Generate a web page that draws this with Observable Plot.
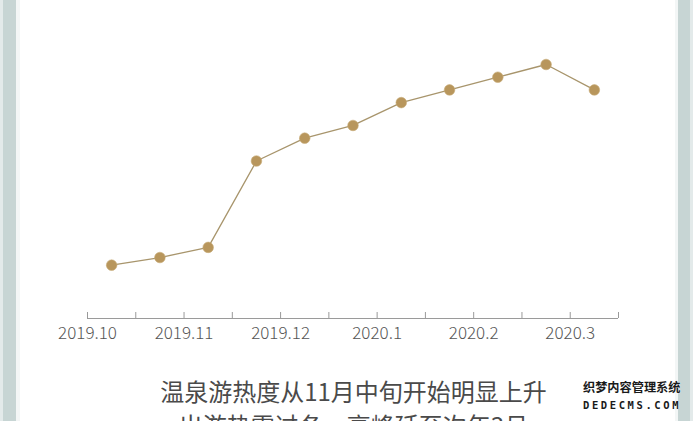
<!DOCTYPE html>
<html>
<head>
<meta charset="utf-8">
<script src="https://cdn.jsdelivr.net/npm/d3@7"></script>
<script src="https://cdn.jsdelivr.net/npm/@observablehq/plot@0.6"></script>
<style>
  html, body { margin: 0; padding: 0; background: #fff; overflow: hidden; }
  #frame { position: relative; width: 693px; height: 421px; background: #fff; overflow: hidden; }
  .edge { position: absolute; top: 0; height: 421px; }
  #chart { position: absolute; left: 0; top: 0; }
  #caption {
    position: absolute; left: 14px; top: 374px; width: 679px; text-align: center;
    font-family: "Noto Sans CJK SC", "Noto Sans", sans-serif; font-weight: 400;
    font-size: 24px; line-height: 34px; color: #4a4a4a; white-space: nowrap;
  }
  #wm1 {
    position: absolute; left: 583px; top: 380px; font-family: "Noto Sans CJK SC", sans-serif;
    font-weight: 700; font-size: 12.2px; line-height: 15px; color: #1a1a1a; white-space: nowrap;
    text-shadow: 0 0 1px #fff, 0 0 1px #fff;
  }
  #wm2 {
    position: absolute; left: 583px; top: 400px; font-family: "DejaVu Sans Mono", monospace;
    font-weight: 700; font-size: 10.5px; line-height: 11px; letter-spacing: 2.6px; color: #1a1a1a; white-space: nowrap;
    text-shadow: 0 0 1px #fff, 0 0 1px #fff;
  }
</style>
</head>
<body>
<div id="frame">
  <div class="edge" style="left:0;width:3px;background:#e3eaea"></div>
  <div class="edge" style="left:3px;width:13px;background:#c7d5d4"></div>
  <div class="edge" style="left:16px;width:4px;background:#f3f6f6"></div>
  <div class="edge" style="left:675px;width:3px;background:#f3f6f6"></div>
  <div class="edge" style="left:678px;width:12px;background:#c7d5d4"></div>
  <div class="edge" style="left:690px;width:3px;background:#e3eaea"></div>
  <div id="chart"></div>
  <div id="caption">温泉游热度从11月中旬开始明显上升<br>出游热需过冬，高峰延至次年3月</div>
  <div id="wm1">织梦内容管理系统</div>
  <div id="wm2">DEDECMS.COM</div>
</div>
<script>
// half-month periods (上半月 / 下半月)
const periods = ["2019.10上", "2019.10下", "2019.11上", "2019.11下", "2019.12上", "2019.12下",
                 "2020.1上", "2020.1下", "2020.2上", "2020.2下", "2020.3上"];
// relative hot-spring travel heat index (max = 100)
const heat = [21, 24, 28, 62, 71, 76, 85, 90, 95, 100, 90];
// month tick labels (each month spans two half-month periods)
const monthLabels = ["2019.10", "2019.11", "2019.12", "2020.1", "2020.2", "2020.3"];

const data = periods.map((p, i) => ({period: p, pos: i + 0.5, heat: heat[i]}));
const allTicks = d3.range(0, periods.length + 1);          // half-month boundaries
const monthTicks = monthLabels.map((_, i) => i * 2);         // month starts

const H = 345, MT = 64, MB = 27;
const chart = Plot.plot({
  width: 693,
  height: H,
  marginLeft: 87,
  marginRight: 75,
  marginTop: MT,
  marginBottom: MB,
  x: {type: "linear", domain: [0, periods.length], axis: null, label: null},
  y: {domain: [0, 100], axis: null, label: null},
  style: {background: "transparent", overflow: "visible",
          fontFamily: "'Noto Sans CJK SC', 'Noto Sans', sans-serif"},
  marks: [
    Plot.ruleY([0], {stroke: "#9a9a9a", strokeWidth: 1}),
    Plot.tickX(allTicks, {x: (d) => d, stroke: "#9a9a9a", strokeWidth: 1,
                          insetTop: H - MT - MB - 6}),
    Plot.axisX({ticks: monthTicks, tickSize: 0, tickPadding: 8, label: null,
                tickFormat: (d) => monthLabels[d / 2],
                fontSize: 17, fontWeight: 300, fill: "#555", textStroke: "none"}),
    Plot.line(data, {x: "pos", y: "heat", stroke: "#a8956c", strokeWidth: 1.3}),
    Plot.dot(data, {x: "pos", y: "heat", r: 5.3, fill: "#b8965c", stroke: "#c8ab78", strokeWidth: 1, strokeOpacity: 0.6})
  ]
});
document.getElementById("chart").appendChild(chart);
</script>
</body>
</html>
